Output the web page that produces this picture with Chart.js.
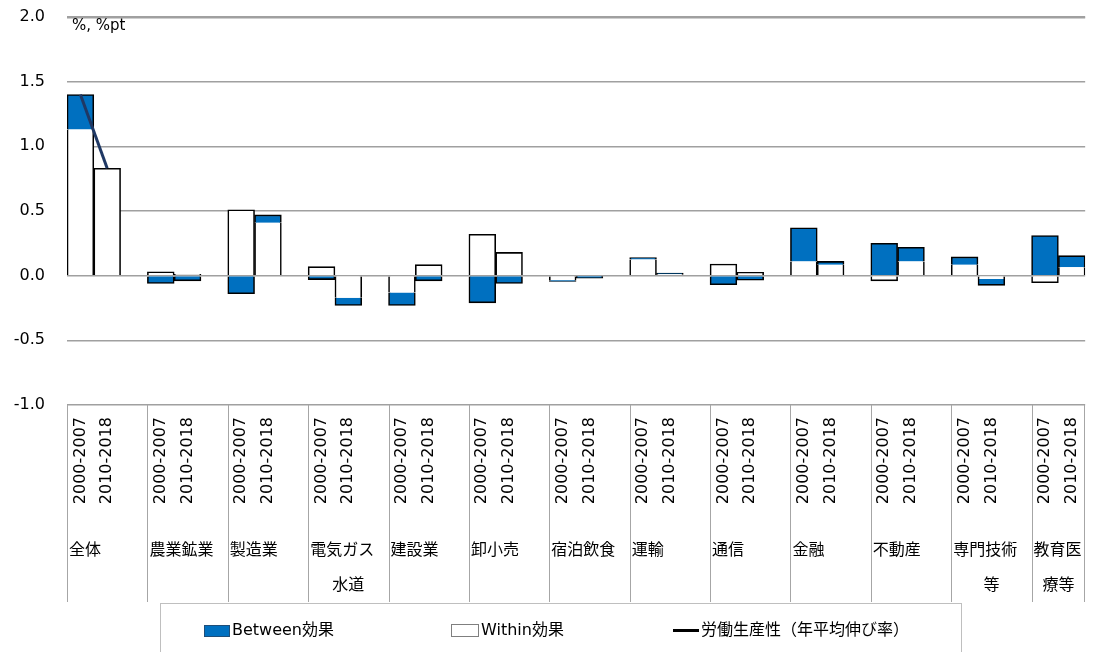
<!DOCTYPE html>
<html lang="ja">
  <head>
    <meta charset="UTF-8" />
    <title>産業別労働生産性の寄与分解</title>
    <script src="https://cdn.jsdelivr.net/npm/chart.js"></script>
    <style>
      body { margin: 0; background: #fff; overflow: hidden; }
      #wrap { position: relative; width: 1103px; height: 652px; overflow: hidden; }
      #legend {
        position: absolute; left: 160px; top: 603px; width: 802px; height: 70px;
        border: 1px solid #bfbfbf; box-sizing: border-box;
        font: 16px "DejaVu Sans", "Noto Sans CJK JP", sans-serif; color: #000;
      }
      .item { position: absolute; top: 15px; height: 22px; line-height: 22px; white-space: nowrap; }
      .sw { display: inline-block; vertical-align: middle; margin-right: 2px; }
    </style>
  </head>
  <body>
    <div id="wrap">
      <canvas id="chart" width="1103" height="652"></canvas>
      <div id="legend">
        <div class="item" style="left:43px"><span class="sw" style="width:26px;height:12px;background:#0070c0;border:1px solid #1f4e79;box-sizing:border-box"></span>Between効果</div>
        <div class="item" style="left:290px"><span class="sw" style="width:28px;height:13px;background:#fff;border:1px solid #7f7f7f;box-sizing:border-box"></span>Within効果</div>
        <div class="item" style="left:512px"><span class="sw" style="width:26px;height:3px;background:#000"></span>労働生産性（年平均伸び率）</div>
      </div>
    </div>
    <script>
      // sectors, each with two periods
      var sectors = [
        ["全体"], ["農業鉱業"], ["製造業"], ["電気ガス", "水道"], ["建設業"], ["卸小売"],
        ["宿泊飲食"], ["運輸"], ["通信"], ["金融"], ["不動産"], ["専門技術", "等"], ["教育医", "療等"]
      ];
      var periods = ["2000-2007", "2010-2018"];

      // contributions in %pt, by period
      var withinEarly  = [1.13, 0.03, 0.51, 0.07, -0.13, 0.32, -0.035, 0.125, 0.09, 0.11, -0.04, 0.085, -0.055];
      var betweenEarly = [0.27, -0.06, -0.14, -0.03, -0.10, -0.21, -0.01, 0.015, -0.07, 0.26, 0.25, 0.06, 0.31];
      var withinLate   = [0.83, 0.01, 0.41, -0.17, 0.085, 0.18, -0.005, 0.01, 0.025, 0.085, 0.11, -0.025, 0.065];
      var betweenLate  = [0.00, -0.04, 0.06, -0.06, -0.04, -0.06, -0.015, 0.01, -0.035, 0.025, 0.11, -0.05, 0.09];

      // labour productivity growth, whole economy only (%)
      var productivityTotal = [1.40, 0.83];

      var yTicks = [-1.0, -0.5, 0.0, 0.5, 1.0, 1.5, 2.0];

      // three slots per sector: two periods and a spacer (none after the last)
      var labels = [], within = [], between = [], productivity = [], groupStart = [];
      sectors.forEach(function (s, g) {
        groupStart.push(labels.length);
        labels.push(periods[0], periods[1]);
        within.push(withinEarly[g], withinLate[g]);
        between.push(betweenEarly[g], betweenLate[g]);
        productivity.push(g === 0 ? productivityTotal[0] : null, g === 0 ? productivityTotal[1] : null);
        if (g < sectors.length - 1) {
          labels.push("");
          within.push(null);
          between.push(null);
          productivity.push(null);
        }
      });

      var BW = 1.6;
      // only outline the outside of each stacked column
      function withinBorder(ctx) {
        var i = ctx.dataIndex, v = within[i], b = between[i];
        var outer = (v > 0 && !(b > 0)) || (v < 0 && !(b < 0));
        return { left: BW, right: BW, top: v > 0 && outer ? BW : 0, bottom: v < 0 && outer ? BW : 0 };
      }
      function betweenBorder(ctx) {
        var v = between[ctx.dataIndex];
        return { left: BW, right: BW, top: v > 0 ? BW : 0, bottom: v < 0 ? BW : 0 };
      }

      var groupAxis = {
        id: "groupAxis",
        beforeDatasetsDraw: function (chart) {
          // top gridline sits on the edge of the plot, redraw it so it shows
          var c = chart.ctx, y = chart.scales.y, area = chart.chartArea;
          var py = Math.round(y.getPixelForValue(yTicks[yTicks.length - 1])) + 0.75;
          c.save();
          c.strokeStyle = "#a0a0a0";
          c.lineWidth = 1.5;
          c.beginPath();
          c.moveTo(area.left, py);
          c.lineTo(area.right, py);
          c.stroke();
          c.restore();
        },
        afterDraw: function (chart) {
          var c = chart.ctx, x = chart.scales.x, area = chart.chartArea;
          var slot = x.width / labels.length;
          c.save();
          c.strokeStyle = "#a6a6a6";
          c.lineWidth = 1;
          c.fillStyle = "#000";
          c.font = '16px "Noto Sans CJK JP", sans-serif';
          c.textBaseline = "middle";
          groupStart.forEach(function (s, g) {
            var left = x.getPixelForValue(s) - slot / 2;
            var right = g < groupStart.length - 1 ? x.getPixelForValue(groupStart[g + 1]) - slot / 2 : area.right;
            c.beginPath();
            c.moveTo(Math.round(left) + 0.5, area.bottom);
            c.lineTo(Math.round(left) + 0.5, 602);
            c.stroke();
            c.textAlign = "left";
            c.fillText(sectors[g][0], left + 2, 549);
            if (sectors[g][1]) {
              c.textAlign = "center";
              c.fillText(sectors[g][1], (left + right) / 2, 584);
            }
          });
          c.beginPath();
          c.moveTo(Math.round(area.right) - 0.5, area.bottom);
          c.lineTo(Math.round(area.right) - 0.5, 602);
          c.stroke();
          c.font = '15px "DejaVu Sans", sans-serif';
          c.textAlign = "left";
          c.fillText("%, %pt", 72, 26);
          c.restore();
        }
      };

      new Chart(document.getElementById("chart"), {
        data: {
          labels: labels,
          datasets: [
            {
              type: "line",
              label: "労働生産性（年平均伸び率）",
              data: productivity,
              stack: "line",
              borderColor: "#1f3864",
              borderWidth: 3,
              pointRadius: 0,
              spanGaps: false
            },
            {
              type: "bar",
              label: "Within効果",
              data: within,
              stack: "effect",
              backgroundColor: "#ffffff",
              borderColor: "#000000",
              borderWidth: withinBorder
            },
            {
              type: "bar",
              label: "Between効果",
              data: between,
              stack: "effect",
              backgroundColor: "#0070c0",
              borderColor: "#000000",
              borderWidth: betweenBorder
            }
          ]
        },
        options: {
          responsive: false,
          animation: false,
          layout: { padding: { top: 17, right: 2, bottom: 52, left: 0 } },
          datasets: { bar: { barPercentage: 1, categoryPercentage: 1 } },
          plugins: { legend: { display: false }, tooltip: { enabled: false } },
          scales: {
            x: {
              stacked: true,
              grid: { display: false, drawTicks: false, tickLength: 0 },
              border: { display: false },
              ticks: {
                autoSkip: false,
                maxRotation: 90,
                minRotation: 90,
                padding: 12,
                color: "#000",
                font: { family: "DejaVu Sans", size: 16 }
              },
              afterFit: function (s) { s.height = 195; }
            },
            y: {
              stacked: true,
              min: yTicks[0],
              max: yTicks[yTicks.length - 1],
              afterBuildTicks: function (s) { s.ticks = yTicks.map(function (v) { return { value: v }; }); },
              grid: { color: "#a0a0a0", lineWidth: 1.5, drawTicks: false, tickLength: 0 },
              border: { display: false },
              ticks: {
                padding: 22,
                color: "#000",
                font: { family: "DejaVu Sans", size: 16 },
                callback: function (v) { return Number(v).toFixed(1); }
              },
              afterFit: function (s) {
                s.width = 67;
                // tick padding would otherwise push the plot top down
                s.paddingTop = 8;
                s.paddingBottom = 8;
              }
            }
          }
        },
        plugins: [groupAxis]
      });
    </script>
  </body>
</html>
